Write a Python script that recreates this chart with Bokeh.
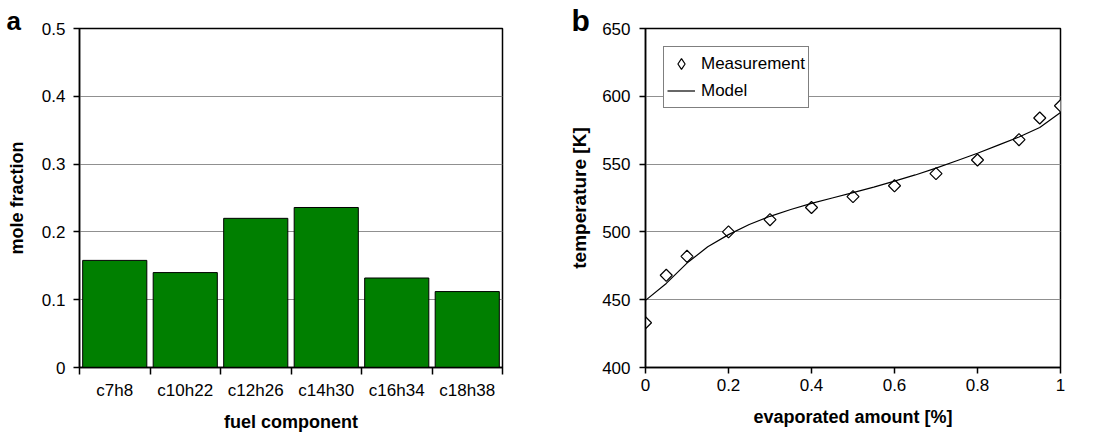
import math
from bokeh.plotting import figure
from bokeh.layouts import row
from bokeh.models import (FixedTicker, Legend, LegendItem, Range1d, Title,
                          ColumnDataSource)
from bokeh.embed import file_html
from bokeh.resources import INLINE

# ---- data ----
components = ["c7h8", "c10h22", "c12h26", "c14h30", "c16h34", "c18h38"]
mole_fraction = [0.158, 0.140, 0.220, 0.236, 0.132, 0.112]

meas_x = [0, 0.05, 0.1, 0.2, 0.3, 0.4, 0.5, 0.6, 0.7, 0.8, 0.9, 0.95, 1.0]
meas_T = [433, 468, 482, 500, 509, 518, 526, 534, 543, 553, 568, 584, 593]

model_x = [0, 0.05, 0.1, 0.15, 0.2, 0.25, 0.3, 0.35, 0.4, 0.45, 0.5, 0.55,
           0.6, 0.65, 0.7, 0.75, 0.8, 0.85, 0.9, 0.95, 1.0]
model_T = [449.5, 462, 477, 489, 498, 505.5, 511.5, 516.5, 521, 525, 529, 533,
           537.5, 542, 547, 552.5, 558, 564, 570, 577, 588]

FONT = "Liberation Sans"
TICK_FS = "17px"
LABEL_FS = "18px"


def style(p):
    p.outline_line_color = "black"
    p.outline_line_width = 1.5
    p.background_fill_color = "white"
    p.border_fill_color = "white"
    p.xgrid.visible = False
    p.ygrid.grid_line_color = "#909090"
    p.ygrid.grid_line_width = 1
    for ax in p.axis:
        ax.axis_line_color = "black"
        ax.axis_line_width = 1.5
        ax.major_tick_line_color = "black"
        ax.major_tick_line_width = 1.5
        ax.major_tick_in = 0
        ax.major_tick_out = 6
        ax.minor_tick_line_color = None
        ax.major_label_text_font = FONT
        ax.major_label_text_font_size = TICK_FS
        ax.major_label_text_color = "black"
        ax.axis_label_text_font = FONT
        ax.axis_label_text_font_size = LABEL_FS
        ax.axis_label_text_font_style = "bold"
        ax.axis_label_text_color = "black"


def panel_letter(p, letter, offset, standoff, size):
    t = Title(text=letter, align="left", offset=offset, standoff=standoff,
              text_font=FONT, text_font_size=size, text_font_style="bold",
              text_color="black")
    p.add_layout(t, "above")


# ---- panel a ----
xs = [i + 0.5 for i in range(len(components))]
p1 = figure(width=540, height=434, output_backend="svg", toolbar_location=None,
            x_range=Range1d(0, len(components)), y_range=Range1d(0, 0.5),
            min_border_left=79, min_border_right=38, min_border_top=24,
            min_border_bottom=64)
p1.vbar(x=xs, top=mole_fraction, width=0.91, fill_color="#007f00",
        line_color="black", line_width=1)
style(p1)
p1.xaxis.ticker = FixedTicker(ticks=xs, minor_ticks=list(range(len(components) + 1)))
p1.xaxis.major_label_overrides = {x: c for x, c in zip(xs, components)}
p1.xaxis.major_tick_out = 0
p1.xaxis.minor_tick_line_color = "black"
p1.xaxis.minor_tick_line_width = 1.5
p1.xaxis.minor_tick_in = 0
p1.xaxis.minor_tick_out = 7
p1.xaxis.major_label_standoff = 6
p1.xaxis.axis_label = "fuel component"
p1.xaxis.axis_label_standoff = 9
p1.yaxis.ticker = FixedTicker(ticks=[0, 0.1, 0.2, 0.3, 0.4, 0.5])
p1.yaxis.major_label_overrides = {0: "0"}
p1.yaxis.major_label_standoff = 8
p1.yaxis.axis_label = "mole fraction"
p1.yaxis.axis_label_standoff = 12
panel_letter(p1, "a", -73, -14, "26px")

# ---- panel b ----
p2 = figure(width=565, height=434, output_backend="svg", toolbar_location=None,
            x_range=Range1d(0, 1), y_range=Range1d(400, 650),
            min_border_left=105, min_border_right=45, min_border_top=28,
            min_border_bottom=66)
style(p2)
meas_src = ColumnDataSource(dict(x=meas_x, y=meas_T,
                                 ang=[math.pi / 4] * len(meas_x)))
p2.scatter("x", "y", source=meas_src, marker="square", angle="ang",
           size=8.5, fill_color="white", line_color="black", line_width=1.2)
# hidden twin of the measurement series, used only for the legend symbol
r_meas_key = p2.scatter("x", "y", source=meas_src, marker="diamond",
                        fill_color="white", line_color="black", line_width=1.2,
                        visible=False)
r_model = p2.line(model_x, model_T, line_color="black", line_width=1.2)
p2.xaxis.ticker = FixedTicker(ticks=[0, 0.2, 0.4, 0.6, 0.8, 1.0])
p2.xaxis.major_label_overrides = {0: "0", 1: "1"}
p2.xaxis.major_label_standoff = 5
p2.xaxis.axis_label = "evaporated amount [%]"
p2.xaxis.axis_label_standoff = 13
p2.yaxis.ticker = FixedTicker(ticks=[400, 450, 500, 550, 600, 650])
p2.yaxis.major_label_standoff = 9
p2.yaxis.axis_label = "temperature [K]"
p2.yaxis.axis_label_standoff = 9
p2.yaxis.axis_label_text_font_size = "19px"

legend = Legend(items=[LegendItem(label="Measurement", renderers=[r_meas_key]),
                       LegendItem(label="Model", renderers=[r_model])])
legend.location = "top_left"
legend.margin = 18
legend.border_line_color = "black"
legend.border_line_width = 1.5
legend.background_fill_alpha = 1
legend.inactive_fill_alpha = 0
legend.label_text_font = FONT
legend.label_text_font_size = "17px"
legend.label_text_color = "black"
legend.glyph_width = 28
legend.glyph_height = 27
legend.spacing = 0
legend.padding = 3
legend.label_standoff = 6
p2.add_layout(legend, "center")
panel_letter(p2, "b", -74, -16, "30px")

layout = row(p1, p2)
open("out.html", "w").write(file_html(layout, INLINE))
